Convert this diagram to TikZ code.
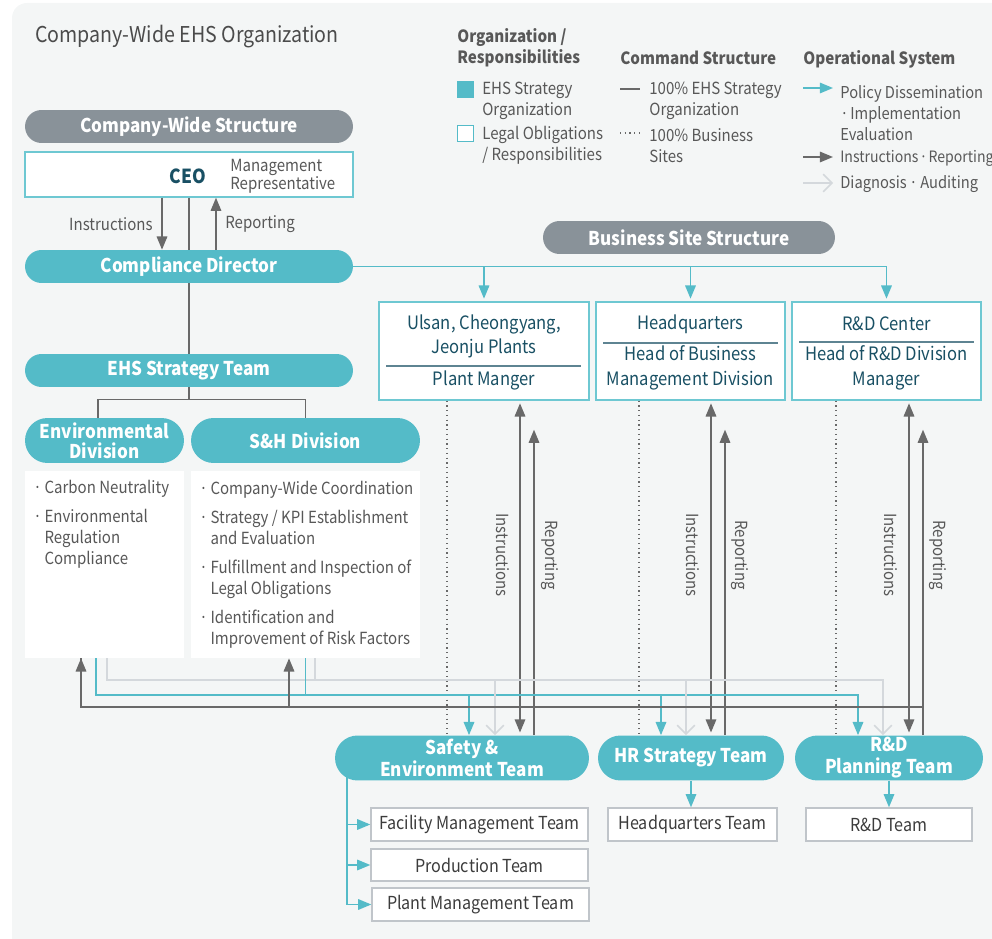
\documentclass[tikz,border=0pt]{standalone}
\usepackage{fontspec}
\setmainfont{Noto Sans CJK KR}[FakeStretch=0.9]
\usepackage{xcolor}
\usetikzlibrary{arrows.meta,calc}
\definecolor{bgc}{RGB}{244,246,246}
\definecolor{ehs}{RGB}{84,187,200}
\definecolor{gbar}{RGB}{137,146,153}
\definecolor{lteal}{RGB}{110,200,210}
\definecolor{dteal}{RGB}{25,80,100}
\definecolor{tgray}{RGB}{88,88,88}
\definecolor{tdark}{RGB}{60,60,60}
\definecolor{dgray}{RGB}{105,105,105}
\definecolor{lgray}{RGB}{212,216,220}
\definecolor{sgray}{RGB}{192,197,202}

\begin{document}
\begin{tikzpicture}[x=0.02cm,y=-0.02cm,
	pill/.style={rectangle, rounded corners=0.33cm, fill=ehs, inner sep=0, minimum height=0.66cm, text=white, font=\bfseries\fontsize{10.8}{13}\selectfont, align=center},
	gpill/.style={pill, fill=gbar},
	tpill/.style={pill, rounded corners=0.45cm, minimum height=0.9cm, font=\bfseries\fontsize{10.8}{12.5}\selectfont},
	site/.style={rectangle, draw=lteal, line width=0.8pt, fill=white, inner sep=0, minimum height=1.96cm},
	stxt/.style={text=dteal, font=\fontsize{10.5}{14}\selectfont, align=center, inner sep=0},
	sub/.style={rectangle, draw=sgray, line width=0.8pt, fill=white, inner sep=0, minimum height=0.66cm, text=tdark, font=\fontsize{10.2}{12}\selectfont},
	duty/.style={rectangle, fill=white, inner sep=0, minimum height=3.74cm},
	txt/.style={text=tgray, font=\fontsize{9.5}{11.9}\selectfont, inner sep=0, align=left},
	head/.style={text=tgray, font=\bfseries\fontsize{9.6}{12}\selectfont, inner sep=0, align=left},
	slink/.style={draw=dgray, line width=0.8pt},
	dotlink/.style={draw=dgray, line width=0.7pt, dotted},
	plink/.style={draw=ehs, line width=0.9pt, -{Triangle[length=7.5pt,width=6pt]}},
	dlink/.style={draw=dgray, line width=0.9pt, -{Triangle[length=7.5pt,width=6pt]}},
	glink/.style={draw=lgray, line width=0.9pt, -{Straight Barb[length=5pt,width=10pt]}}]

	\useasboundingbox (0,0) rectangle (992,939);
	\fill[bgc, rounded corners=0.3cm] (12,3) rectangle (1010,960);

	%title and legend
	\node[anchor=west, inner sep=0, text=tgray!85!black, font=\fontsize{12.4}{14}\selectfont] (title) at (35,37) {Company-Wide EHS Organization};
	\node[head, anchor=west] (h1) at (457,48) {Organization /\\Responsibilities};
	\node[head, anchor=west] (h2) at (620,58) {Command Structure};
	\node[head, anchor=west] (h3) at (803,59) {Operational System};

	\node[rectangle, fill=ehs, inner sep=0, minimum size=0.34cm] (lg1) at (465.5,89.5) {};
	\node[txt, anchor=west] (lt1) at (482,100.5) {EHS Strategy\\Organization};
	\node[rectangle, draw=ehs, line width=1pt, fill=white, inner sep=0, minimum size=0.32cm] (lg2) at (465.5,133.5) {};
	\node[txt, anchor=west] (lt2) at (482,145.5) {Legal Obligations\\/ Responsibilities};

	\node[txt, anchor=west] (lc1) at (649,100.5) {100\% EHS Strategy\\Organization};
	\node[txt, anchor=west] (lc2) at (649,145.5) {100\% Business\\Sites};
	\draw[slink] (620,89) -- (640,89);
	\draw[dotlink] (620,133) -- (640,133);

	\node[txt, anchor=west, font=\fontsize{9.3}{11.9}\selectfont] (lo1) at (840,113) {Policy Dissemination\\ ·\kern1pt Implementation\\Evaluation};
	\node[txt, anchor=west, font=\fontsize{8.9}{11.9}\selectfont] (lo2) at (840,158) {Instructions\kern0.6pt·\kern0.6pt Reporting};
	\node[txt, anchor=west, font=\fontsize{9.3}{11.9}\selectfont] (lo3) at (840,184) {Diagnosis\kern1.5pt·\kern1.5pt Auditing};
	\draw[plink] (803,88) -- (833,88);
	\draw[dlink] (803,157) -- (833,157);
	\draw[glink] (803,183) -- (833,183);

	%company-wide structure
	\node[gpill, minimum width=6.56cm] (cws) at (189,126.5) {Company-Wide Structure};
	\node[site, minimum width=6.56cm, minimum height=0.9cm] (ceo) at (189,174.5) {};
	\node[text=dteal, font=\bfseries\fontsize{11}{13}\selectfont, inner sep=0] (ceol) at (188,176) {CEO};
	\node[txt, anchor=west, font=\fontsize{9.5}{10.2}\selectfont] (mrep) at (230,176) {Management\\Representative};
	\node[pill, minimum width=6.56cm] (cd) at (189,266.5) {Compliance Director};
	\node[pill, minimum width=6.56cm] (ehst) at (189,370.5) {EHS Strategy Team};

	\draw[dlink] ([xshift=-0.54cm]ceo.south) -- ([xshift=-0.54cm]cd.north);
	\draw[dlink] ([xshift=0.54cm]cd.north) -- ([xshift=0.54cm]ceo.south);
	\draw[slink] (ceo.south) -- (cd.north);
	\draw[slink] (cd.south) -- (ehst.north);
	\node[txt, anchor=east] (cins) at (153,224) {Instructions};
	\node[txt, anchor=west] (crep) at (225,224) {Reporting};

	%divisions
	\node[tpill, minimum width=3.18cm, font=\bfseries\fontsize{10.8}{11.5}\selectfont] (env) at (104.5,440.5) {Environmental\\Division};
	\node[tpill, minimum width=4.58cm] (sh) at (305.5,440.5) {S\&H Division};
	\draw[slink] (ehst.south) -- ++(0,12) -| ([xshift=-0.13cm]env.north);
	\draw[slink] (ehst.south) ++(0,12) -| (sh.north);
	\node[duty, minimum width=3.18cm] (envt) at (104.5,564.5) {};
	\node[duty, minimum width=4.58cm] (sht) at (305.5,564.5) {};
	\node[txt, anchor=north west] (envl) at (33,480) {·\,Carbon Neutrality\\[4.6pt]·\,Environmental\\\hphantom{·\,}Regulation\\\hphantom{·\,}Compliance};
	\node[txt, anchor=north west] (shl) at (199,481) {·\,Company-Wide Coordination\\[4.6pt]·\,Strategy / KPI Establishment\\\hphantom{·\,}and Evaluation\\[4.6pt]·\,Fulfillment and Inspection of\\\hphantom{·\,}Legal Obligations\\[4.6pt]·\,Identification and\\\hphantom{·\,}Improvement of Risk Factors};

	%business site structure
	\node[gpill, minimum width=5.84cm] (bss) at (689,237.5) {Business Site Structure};
	\node[site, minimum width=4.2cm] (site1) at (484,351) {};
	\node[site, minimum width=3.78cm] (site2) at (690.5,351) {};
	\node[site, minimum width=3.78cm] (site3) at (886.5,351) {};
	\node[stxt] (s1a) at (484,336.5) {Ulsan, Cheongyang,\\Jeonju Plants};
	\node[stxt] (s1b) at (484,380) {Plant Manger};
	\node[stxt] (s2a) at (690.5,324) {Headquarters};
	\node[stxt] (s2b) at (690.5,368) {Head of Business\\Management Division};
	\node[stxt] (s3a) at (886.5,324) {R\&D Center};
	\node[stxt] (s3b) at (886.5,368) {Head of R\&D Division\\Manager};
	\draw[draw=dteal!70, line width=0.8pt] ($(site1.west)+(8,15)$) -- ($(site1.east)+(-9,15)$);
	\draw[draw=dteal!70, line width=0.8pt] ($(site2.west)+(8,-8)$) -- ($(site2.east)+(-8,-8)$);
	\draw[draw=dteal!70, line width=0.8pt] ($(site3.west)+(8,-9)$) -- ($(site3.east)+(-8,-9)$);

	\draw[plink, -] (cd.east) -- (cd.east -| site3.north);
	\foreach \i in {1,2,3} {
		\draw[plink, shorten >=1.5pt] (cd.east -| site\i.north) -- (site\i.north);
	}

	%teams
	\node[tpill, minimum width=5.08cm] (team1) at (462,758) {Safety \&\\Environment Team};
	\node[tpill, minimum width=3.72cm] (team2) at (691,758) {HR Strategy Team};
	\node[tpill, minimum width=3.76cm] (team3) at (889,758) {R\&D\\Planning Team};
	\node[sub, minimum width=4.34cm] (sub1) at (479.5,824.5) {Facility Management Team};
	\node[sub, minimum width=4.34cm, minimum height=0.64cm] (sub2) at (479.5,865) {Production Team};
	\node[sub, minimum width=4.34cm] (sub3) at (480.5,904.5) {Plant Management Team};
	\node[sub, minimum width=3.38cm] (hqt) at (692.5,824.5) {Headquarters Team};
	\node[sub, minimum width=3.32cm] (rdt) at (889,824.5) {R\&D Team};

	\coordinate (sx) at ([xshift=-2.3cm, yshift=0.1cm]team1.south);
	\draw[plink, -] (sx) -- (sx |- sub3.west);
	\foreach \s in {sub1,sub2,sub3} {
		\draw[plink] (sx |- \s.west) -- (\s.west);
	}
	\draw[plink] (team2.south) -- (team2.south |- hqt.north);
	\draw[plink] (team3.south) -- (team3.south |- rdt.north);

	%operational lines between sites, teams and divisions
	\coordinate (gb) at (0,680);
	\coordinate (tb) at (0,695);
	\coordinate (db) at (0,707);
	\foreach \i/\xd/\xt/\xg/\xi/\xr/\li/\lr in {1/447/469/495/520/534/503/550, 2/639/661/686/711/725/693/740, 3/836/858/883/909/923/891/938} {
		\coordinate (dx\i) at (\xd,0);
		\coordinate (tx\i) at (\xt,0);
		\coordinate (gx\i) at (\xg,0);
		\coordinate (ix\i) at (\xi,0);
		\coordinate (rx\i) at (\xr,0);
		\draw[dotlink] (dx\i |- site\i.south) -- (dx\i |- team\i.north);
		\draw[dlink, {Triangle[length=7.5pt,width=6pt]}-{Triangle[length=7.5pt,width=6pt]}, shorten <=1.5pt, shorten >=1.5pt] (ix\i |- site\i.south) -- (ix\i |- team\i.north);
		\draw[dlink, shorten >=0.58cm] (rx\i |- team\i.north) -- (rx\i |- site\i.south);
		\node[txt, rotate=-90] (li\i) at (\li,555) {Instructions};
		\node[txt, rotate=-90] (lr\i) at (\lr,555) {Reporting};
	}
	\draw[glink] ([xshift=0.05cm]envt.south) |- (gx3 |- gb) -- (gx3 |- team3.north);
	\draw[glink, -] ([xshift=0.19cm]sht.south) -- ([xshift=0.19cm]sht.south |- gb);
	\draw[plink] ([xshift=-0.17cm]envt.south) |- (tx3 |- tb) -- (tx3 |- team3.north);
	\draw[plink, -] (sht.south) -- (sht.south |- tb);
	\foreach \i in {1,2} {
		\draw[glink] (gx\i |- gb) -- (gx\i |- team\i.north);
		\draw[plink] (tx\i |- tb) -- (tx\i |- team\i.north);
	}
	\draw[dlink, -] (rx3 |- db) -| ([xshift=-0.47cm]envt.south);
	\draw[dlink] ([xshift=-0.47cm]envt.south |- db) -- ([xshift=-0.47cm]envt.south);
	\draw[dlink] ([xshift=-0.33cm]sht.south |- db) -- ([xshift=-0.33cm]sht.south);
\end{tikzpicture}
\end{document}
